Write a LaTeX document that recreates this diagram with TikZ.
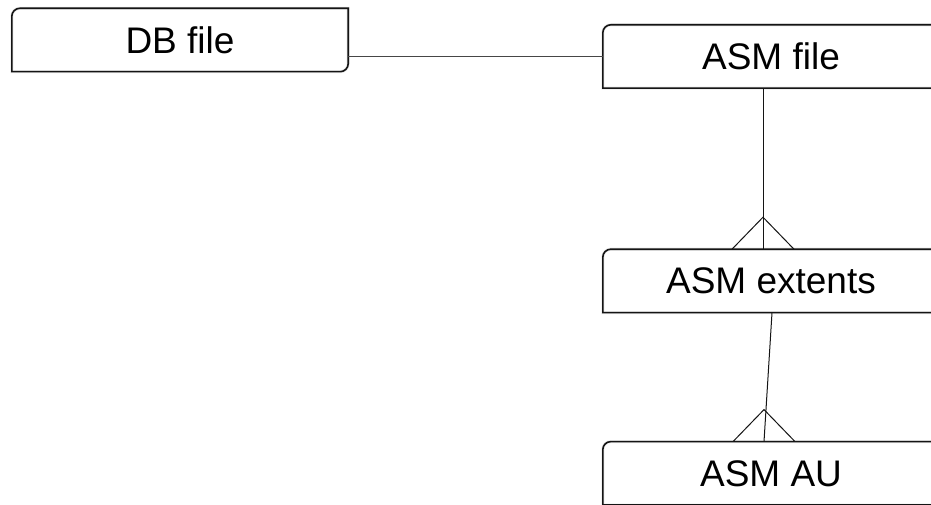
\documentclass[tikz,border=0pt]{standalone}
\usepackage{fontspec}
\setmainfont{Liberation Sans}
\usetikzlibrary{positioning,calc}
\definecolor{edgeDark}{RGB}{20,20,20}
\definecolor{linkGray}{RGB}{70,70,70}
\tikzset{
  boxline/.style={draw=edgeDark, line width=1.6pt},
  boxshade/.style={draw=black!8, line width=3pt},
  entbox/.style={
    minimum width=336pt, minimum height=63pt, inner sep=0pt,
    font=\fontsize{37}{44}\selectfont,
    append after command={\pgfextra{
      \draw[boxshade, shift={(1.5pt,-3pt)}] ([xshift=8pt]\tikzlastnode.north west)
        -- (\tikzlastnode.north east) -- ([yshift=8pt]\tikzlastnode.south east)
        arc[start angle=0, end angle=-90, radius=8pt] -- (\tikzlastnode.south west)
        -- ([yshift=-8pt]\tikzlastnode.north west)
        arc[start angle=180, end angle=90, radius=8pt];
      \draw[boxline] ([xshift=8pt]\tikzlastnode.north west)
        -- (\tikzlastnode.north east) -- ([yshift=8pt]\tikzlastnode.south east)
        arc[start angle=0, end angle=-90, radius=8pt] -- (\tikzlastnode.south west)
        -- ([yshift=-8pt]\tikzlastnode.north west)
        arc[start angle=180, end angle=90, radius=8pt] -- cycle;}}
  },
  link/.style={draw=linkGray, line width=1.2pt},
  crowfoot/.style={draw=edgeDark, line width=1pt}
}
\begin{document}
\begin{tikzpicture}[x=1pt, y=1pt]
  \useasboundingbox (0,0) rectangle (931,504);
  \clip (0,0) rectangle (931,504);
  \fill[white] (0,0) rectangle (931,504);

  \node[entbox] (dbfile) at (180,464) {DB file};
  \node[entbox] (asmfile) at (771,447.5) {ASM file};
  \node[entbox, below=161pt of asmfile] (asmext) {ASM extents};
  \node[entbox, below=129pt of asmext] (asmau) {ASM AU};

  % one-to-one
  \draw[link] (asmfile.west) -- (asmfile.west -| dbfile.east);

  % one-to-many: file -> extents
  \coordinate (fx) at ([xshift=-8pt]asmext.north);
  \draw[crowfoot] ([xshift=-8pt]asmfile.south) -- (fx);
  \draw[crowfoot] ([xshift=-31pt]fx) -- ([yshift=32pt]fx) -- ([xshift=31pt]fx);

  % one-to-many: extents -> AU
  \coordinate (ax) at ([xshift=-7pt]asmau.north);
  \draw[crowfoot] ([xshift=1pt]asmext.south) -- (ax);
  \draw[crowfoot] ([xshift=-31pt]ax) -- ([yshift=32pt]ax) -- ([xshift=31pt]ax);
\end{tikzpicture}
\end{document}
